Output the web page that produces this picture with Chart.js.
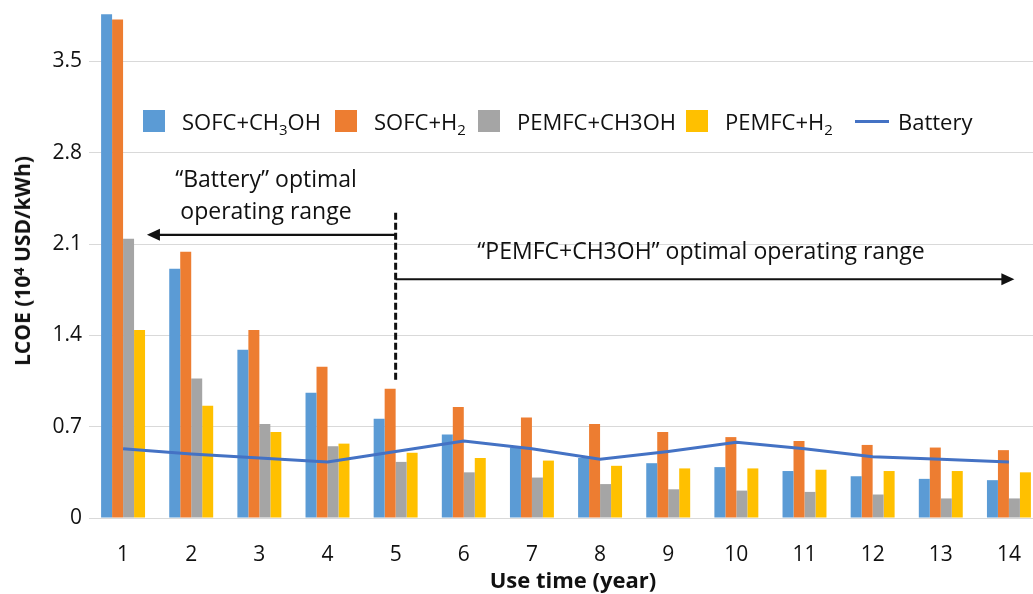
<!DOCTYPE html>
<html>
<head>
<meta charset="utf-8">
<script src="https://cdn.jsdelivr.net/npm/chart.js@4.4.1/dist/chart.umd.min.js"></script>
<style>
  html, body { margin: 0; padding: 0; background: #fff; overflow: hidden; }
  #wrap { position: relative; width: 1033px; height: 594px; overflow: hidden;
          font-family: 'Open Sans', sans-serif; color: #111; }
  #wrap canvas { position: absolute; left: 0; top: -30px; }
  sub { font-size: 0.68em; vertical-align: -0.32em; line-height: 0; }
  sup { font-size: 0.68em; vertical-align: 0.45em; line-height: 0; }
  .lg { position: absolute; top: 108px; height: 26px; display: flex; align-items: center;
        font-size: 22px; white-space: nowrap; }
  .sw { width: 22px; height: 22px; margin-right: 17px; flex: none; }
  .ln { width: 34px; height: 3px; margin-right: 9px; flex: none; }
  .note { position: absolute; white-space: nowrap; text-align: center; font-size: 23px;
          transform: translateX(-50%); line-height: 32px; }
  #ytitle { position: absolute; left: 22px; top: 261px; white-space: nowrap; font-weight: bold;
            font-size: 21px; transform: translate(-50%, -50%) rotate(-90deg); }
  #xtitle { position: absolute; left: 573px; top: 566px; white-space: nowrap; font-weight: bold;
            font-size: 22px; transform: translateX(-50%); line-height: 26px; }
</style>
</head>
<body>
<div id="wrap">
  <canvas id="lcoe" width="1043" height="624"></canvas>
  <div id="legend"></div>
  <div class="note" style="left:266px; top:162px;">“Battery” optimal<br>operating range</div>
  <div class="note" style="left:701px; top:234px;">“PEMFC+CH3OH” optimal operating range</div>
  <div id="ytitle">LCOE (10<sup>4</sup> USD/kWh)</div>
  <div id="xtitle">Use time (year)</div>
</div>
<script>
// chart data
const years = ['1', '2', '3', '4', '5', '6', '7', '8', '9', '10', '11', '12', '13', '14'];
const sofcCh3oh = [3.86, 1.91, 1.29, 0.96, 0.76, 0.64, 0.54, 0.46, 0.42, 0.39, 0.36, 0.32, 0.30, 0.29];
const sofcH2 = [3.82, 2.04, 1.44, 1.16, 0.99, 0.85, 0.77, 0.72, 0.66, 0.62, 0.59, 0.56, 0.54, 0.52];
const pemfcCh3oh = [2.14, 1.07, 0.72, 0.55, 0.43, 0.35, 0.31, 0.26, 0.22, 0.21, 0.20, 0.18, 0.15, 0.15];
const pemfcH2 = [1.44, 0.86, 0.66, 0.57, 0.50, 0.46, 0.44, 0.40, 0.38, 0.38, 0.37, 0.36, 0.36, 0.35];
const battery = [0.53, 0.49, 0.46, 0.43, 0.51, 0.59, 0.53, 0.45, 0.51, 0.58, 0.53, 0.47, 0.45, 0.43];
const yTicks = [0, 0.7, 1.4, 2.1, 2.8, 3.5, 4.2];

const barNames = ['SOFC+CH<sub>3</sub>OH', 'SOFC+H<sub>2</sub>', 'PEMFC+CH3OH', 'PEMFC+H<sub>2</sub>'];
const barColors = ['#5B9BD5', '#ED7D31', '#A5A5A5', '#FFC000'];
const lineColor = '#4472C4';

// where the two operating ranges split (year 5) and the annotation heights
const splitIndex = 4;
const dashTop = 2.34, dashBottom = 1.06;
const leftArrowY = 2.17, rightArrowY = 1.83;

function arrow(ctx, x1, x2, y) {
  let dir = Math.sign(x2 - x1);
  ctx.beginPath();
  ctx.moveTo(x1, y);
  ctx.lineTo(x2 - dir * 10, y);
  ctx.stroke();
  ctx.beginPath();
  ctx.moveTo(x2, y);
  ctx.lineTo(x2 - dir * 13, y - 6);
  ctx.lineTo(x2 - dir * 13, y + 6);
  ctx.closePath();
  ctx.fill();
}

const rangeMarks = {
  id: 'rangeMarks',
  afterDatasetsDraw(chart) {
    const ctx = chart.ctx;
    const x = chart.scales.x, y = chart.scales.y;
    const step = x.getPixelForValue(1) - x.getPixelForValue(0);
    const xs = x.getPixelForValue(splitIndex);
    ctx.save();
    ctx.strokeStyle = '#111';
    ctx.fillStyle = '#111';
    ctx.lineWidth = 3;
    ctx.setLineDash([7, 3]);
    ctx.beginPath();
    ctx.moveTo(xs, y.getPixelForValue(dashTop));
    ctx.lineTo(xs, y.getPixelForValue(dashBottom));
    ctx.stroke();
    ctx.setLineDash([]);
    ctx.lineWidth = 2.2;
    arrow(ctx, xs, x.getPixelForValue(0) + 0.35 * step, y.getPixelForValue(leftArrowY));
    arrow(ctx, xs, x.getPixelForValue(years.length - 1) + 0.08 * step, y.getPixelForValue(rightArrowY));
    ctx.restore();
  }
};

let barData = [sofcCh3oh, sofcH2, pemfcCh3oh, pemfcH2];
let datasets = barData.map(function (vals, i) {
  return {
    type: 'bar',
    label: barNames[i].replace(/<\/?sub>/g, ''),
    data: vals,
    backgroundColor: barColors[i],
    barPercentage: 1,
    categoryPercentage: 0.645,
    order: 1
  };
});
datasets.push({
  type: 'line',
  label: 'Battery',
  data: battery,
  borderColor: lineColor,
  borderWidth: 3,
  pointRadius: 0,
  tension: 0,
  order: 0
});

Chart.defaults.font.family = "'Open Sans', sans-serif";
Chart.defaults.color = '#111';

let chart = new Chart(document.getElementById('lcoe').getContext('2d'), {
  type: 'bar',
  data: { labels: years, datasets: datasets },
  options: {
    responsive: false,
    animation: false,
    layout: { padding: 0 },
    plugins: { legend: { display: false }, tooltip: { enabled: false } },
    scales: {
      x: {
        grid: { display: false },
        border: { display: false },
        ticks: { font: { size: 21 }, padding: 16, maxRotation: 0 },
        afterFit: function (s) { s.height = 76; s.paddingLeft = 0; s.paddingRight = 0; }
      },
      y: {
        min: 0,
        max: 4.2,
        afterBuildTicks: function (s) { s.ticks = yTicks.map(v => ({ value: v })); },
        grid: { color: '#D9D9D9', lineWidth: 1, drawTicks: false },
        border: { display: false },
        ticks: {
          font: { size: 21 },
          padding: 7,
          callback: v => v === 0 ? '0' : v.toFixed(1)
        },
        afterFit: function (s) { s.width = 89; s.paddingTop = 0; s.paddingBottom = 0; }
      }
    }
  },
  plugins: [rangeMarks]
});

// legend drawn as html so the subscripts look right
const legendLeft = [143, 335, 478, 686, 855];
let legend = document.getElementById('legend');
barNames.forEach(function (name, i) {
  legend.insertAdjacentHTML('beforeend',
    '<div class="lg" style="left:' + legendLeft[i] + 'px"><span class="sw" style="background:' +
    barColors[i] + '"></span><span>' + name + '</span></div>');
});
legend.insertAdjacentHTML('beforeend',
  '<div class="lg" style="left:' + legendLeft[4] + 'px"><span class="ln" style="background:' +
  lineColor + '"></span><span>Battery</span></div>');
</script>
</body>
</html>
